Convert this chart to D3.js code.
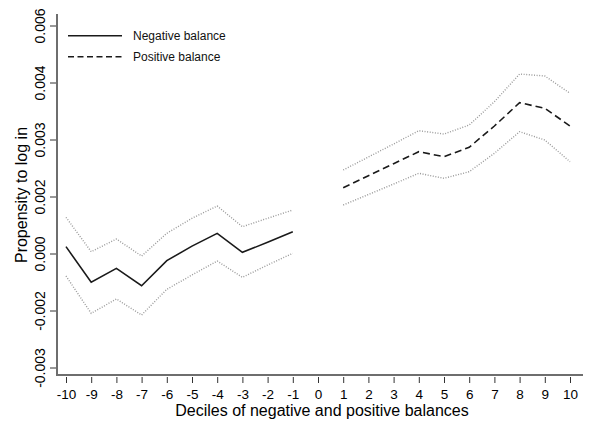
<!DOCTYPE html>
<html><head><meta charset="utf-8">
<script src="https://cdn.jsdelivr.net/npm/d3@7"></script>
<style>body{margin:0;background:#fff}svg{display:block}text{font-family:"Liberation Sans",Arial,sans-serif}</style>
</head><body><svg id="c" width="589" height="424"></svg>
<script>
const negX = [-10,-9,-8,-7,-6,-5,-4,-3,-2,-1];
const negMid = [0.12,-0.505,-0.26,-0.565,-0.126,0.13,0.354,0.02,0.196,0.382];
const negHi  = [0.635,0.032,0.254,-0.044,0.354,0.618,0.833,0.47,0.618,0.763];
const negLo  = [-0.395,-1.05,-0.798,-1.079,-0.628,-0.377,-0.132,-0.418,-0.202,0.004];
const posX = [1,2,3,4,5,6,7,8,9,10];
const posMid = [1.154,1.365,1.575,1.786,1.698,1.863,2.237,2.646,2.547,2.237];
const posHi  = [1.465,1.693,1.921,2.154,2.096,2.254,2.663,3.149,3.114,2.811];
const posLo  = [0.851,1.035,1.219,1.407,1.319,1.435,1.758,2.137,1.991,1.611];
const yTickVals = [-2,-1,0,1,2,3,4];
const yTickLabels = ["-0.003","-0.002","0.000","0.002","0.003","0.004","0.006"];
const xTicks = d3.range(-10,11);
const legendLabels = ["Negative balance","Positive balance"];

const svg = d3.select("#c");
const x = d3.scaleLinear().domain([-10,10]).range([66,570]);
const y = d3.scaleLinear().domain([-2,4]).range([367.5,25.5]);
const axisCol = "#6e6e6e";

svg.append("line").attr("x1",57).attr("x2",57).attr("y1",14).attr("y2",376).attr("stroke",axisCol).attr("stroke-width",2);
svg.append("line").attr("x1",56).attr("x2",583).attr("y1",375).attr("y2",375).attr("stroke",axisCol).attr("stroke-width",2);

const yAxis = d3.axisLeft(y).tickValues(yTickVals).tickSize(6).tickFormat((d,i)=>yTickLabels[i]);
const gy = svg.append("g").attr("transform","translate(56,0)").call(yAxis);
gy.select(".domain").remove();
gy.selectAll(".tick line").attr("stroke","#333");
gy.selectAll(".tick text").attr("font-size",14).attr("fill","#000")
  .attr("transform","rotate(-90)")
  .attr("x",0).attr("dy",0).attr("y",-11).attr("text-anchor","middle");

const xAxis = d3.axisBottom(x).tickValues(xTicks).tickSize(6).tickFormat(d3.format("d"));
const gx = svg.append("g").attr("transform","translate(0,377)").call(xAxis);
gx.select(".domain").remove();
gx.selectAll(".tick line").attr("stroke","#333");
gx.selectAll(".tick text").attr("font-size",13.5).attr("fill","#000").attr("y",21.5).attr("dy",0).text(d=>d<0?"-"+Math.abs(d):d);

svg.append("text").attr("x",322).attr("y",416).attr("text-anchor","middle").attr("font-size",16).attr("fill","#000").text("Deciles of negative and positive balances");
svg.append("text").attr("transform","translate(27,195) rotate(-90)").attr("text-anchor","middle").attr("font-size",16).attr("fill","#000").text("Propensity to log in");

const line = d3.line().x(d=>x(d[0])).y(d=>y(d[1]));
function draw(xs, vs, style){
  svg.append("path").datum(xs.map((v,i)=>[v,vs[i]])).attr("d",line).attr("fill","none")
    .attr("stroke",style.c).attr("stroke-width",style.w).attr("stroke-dasharray",style.d||null);
}
const dot = {c:"#9a9a9a",w:1.4,d:"1,1.6"};
draw(negX,negHi,dot); draw(negX,negLo,dot);
draw(posX,posHi,dot); draw(posX,posLo,dot);
draw(negX,negMid,{c:"#1a1a1a",w:1.6});
draw(posX,posMid,{c:"#1a1a1a",w:1.6,d:"7,4"});

const lg = svg.append("g");
[[null,35.7],["6,3.5",56.7]].forEach((s,i)=>{
  lg.append("line").attr("x1",68).attr("x2",122).attr("y1",s[1]).attr("y2",s[1]).attr("stroke","#1a1a1a").attr("stroke-width",1.6).attr("stroke-dasharray",s[0]);
  lg.append("text").attr("x",133).attr("y",s[1]).attr("dy","0.35em").attr("font-size",12).attr("fill","#111").text(legendLabels[i]);
});
</script></body></html>
